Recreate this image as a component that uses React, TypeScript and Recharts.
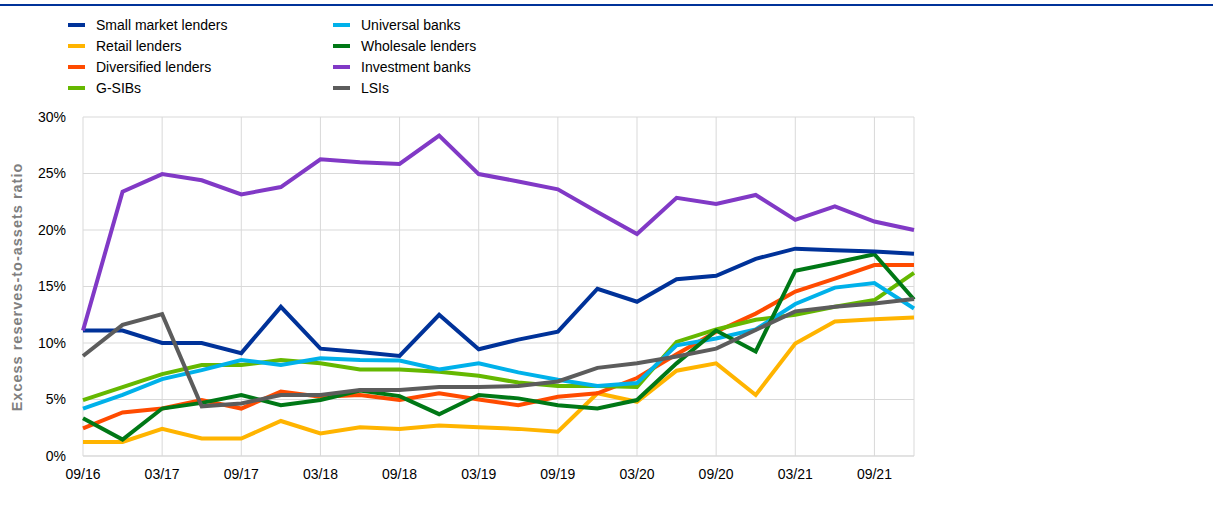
import React from "react";
import { LineChart, Line, XAxis, YAxis, CartesianGrid } from "recharts";

const quarters = ["09/16","12/16","03/17","06/17","09/17","12/17","03/18","06/18","09/18","12/18","03/19","06/19","09/19","12/19","03/20","06/20","09/20","12/20","03/21","06/21","09/21","12/21"];

const smallMarket = [11.1,11.1,10.0,10.0,9.1,13.2,9.5,9.2,8.85,12.5,9.45,10.3,11.0,14.8,13.65,15.65,15.95,17.45,18.35,18.2,18.1,17.9];
const retail = [1.25,1.25,2.4,1.55,1.55,3.1,2.0,2.55,2.4,2.7,2.55,2.4,2.15,5.55,4.8,7.55,8.2,5.4,9.95,11.9,12.1,12.25];
const diversified = [2.45,3.85,4.2,4.95,4.2,5.7,5.25,5.4,4.95,5.55,5.0,4.5,5.25,5.55,6.9,9.0,11.0,12.6,14.55,15.7,16.9,16.9];
const gsibs = [4.95,6.1,7.25,8.05,8.05,8.5,8.2,7.65,7.65,7.45,7.1,6.5,6.2,6.2,6.1,10.1,11.2,12.05,12.5,13.2,13.8,16.2];
const universal = [4.2,5.4,6.8,7.6,8.5,8.05,8.65,8.5,8.45,7.65,8.2,7.4,6.75,6.2,6.45,9.8,10.4,11.2,13.45,14.9,15.3,13.05];
const wholesale = [3.35,1.45,4.2,4.7,5.4,4.5,4.95,5.8,5.3,3.7,5.4,5.1,4.5,4.2,4.95,8.2,11.1,9.25,16.4,17.1,17.85,13.85];
const investment = [11.1,23.4,24.95,24.4,23.15,23.8,26.25,26.0,25.85,28.35,24.95,24.3,23.6,21.6,19.65,22.85,22.3,23.1,20.9,22.1,20.75,20.0];
const lsis = [8.85,11.6,12.55,4.4,4.65,5.4,5.4,5.85,5.85,6.1,6.1,6.2,6.6,7.8,8.2,8.8,9.5,11.15,12.8,13.2,13.5,13.9];

const yTicks = [0, 5, 10, 15, 20, 25, 30];

const seriesNames = ["Small market lenders","Retail lenders","Diversified lenders","G-SIBs","Universal banks","Wholesale lenders","Investment banks","LSIs"];
const seriesKeys = ["smallMarket","retail","diversified","gsibs","universal","wholesale","investment","lsis"];
const seriesColors = ["#003299","#FFB400","#FF4B00","#65B800","#00B1EA","#007816","#8139C6","#5C5C5C"];
const seriesValues = [smallMarket, retail, diversified, gsibs, universal, wholesale, investment, lsis];
const drawOrder = [1, 2, 3, 4, 5, 0, 6, 7];

const data = quarters.map((q, i) => {
  const row: Record<string, string | number> = { q };
  seriesKeys.forEach((k, s) => { row[k] = seriesValues[s][i]; });
  return row;
});

const FONT = "'Liberation Sans', Arial, sans-serif";

const LegendBlock = () => (
  <div style={{ position: "absolute", left: 68, top: 15, width: 520, height: 90, fontFamily: FONT, fontSize: 14, color: "#000" }}>
    {seriesNames.map((name, i) => {
      const col = i < 4 ? 0 : 1;
      const row = i % 4;
      return (
        <div key={name} style={{ position: "absolute", left: col * 265, top: row * 20.9, height: 20, display: "flex", alignItems: "center", whiteSpace: "nowrap" }}>
          <span style={{ display: "inline-block", width: 17, height: 4, background: seriesColors[i], marginRight: 11 }} />
          <span>{name}</span>
        </div>
      );
    })}
  </div>
);

export default function App() {
  return (
    <div style={{ position: "absolute", left: 0, top: 0, width: 1213, height: 507, background: "#fff" }}>
      <div style={{ position: "absolute", left: 0, top: 4, width: 1213, height: 2, background: "#003299" }} />
      <LegendBlock />
      <LineChart width={1213} height={507} data={data} margin={{ top: 117, right: 299, bottom: 21, left: 0 }}>
        <CartesianGrid stroke="#D9D9D9" strokeWidth={1} />
        <XAxis
          dataKey="q"
          interval={1}
          tickLine={false}
          tickSize={0}
          tickMargin={13}
          height={30}
          axisLine={{ stroke: "#D9D9D9" }}
          tick={{ fill: "#000", fontSize: 14, fontFamily: FONT }}
        />
        <YAxis
          width={83}
          domain={[0, 30]}
          ticks={yTicks}
          tickFormatter={(v: number) => `${v}%`}
          axisLine={false}
          tickLine={false}
          tickSize={0}
          tickMargin={17}
          tick={{ fill: "#000", fontSize: 14, fontFamily: FONT }}
          label={{
            content: () => (
              <text x={22} y={287} transform="rotate(-90 22 287)" textAnchor="middle" fill="#7F7F7F" fontSize={14.5} letterSpacing={1} fontWeight="bold" fontFamily={FONT}>
                Excess reserves-to-assets ratio
              </text>
            ),
          }}
        />
        {drawOrder.map((s) => (
          <Line
            key={seriesKeys[s]}
            dataKey={seriesKeys[s]}
            name={seriesNames[s]}
            stroke={seriesColors[s]}
            strokeWidth={4}
            dot={false}
            activeDot={false}
            type="linear"
            isAnimationActive={false}
          />
        ))}
      </LineChart>
    </div>
  );
}
